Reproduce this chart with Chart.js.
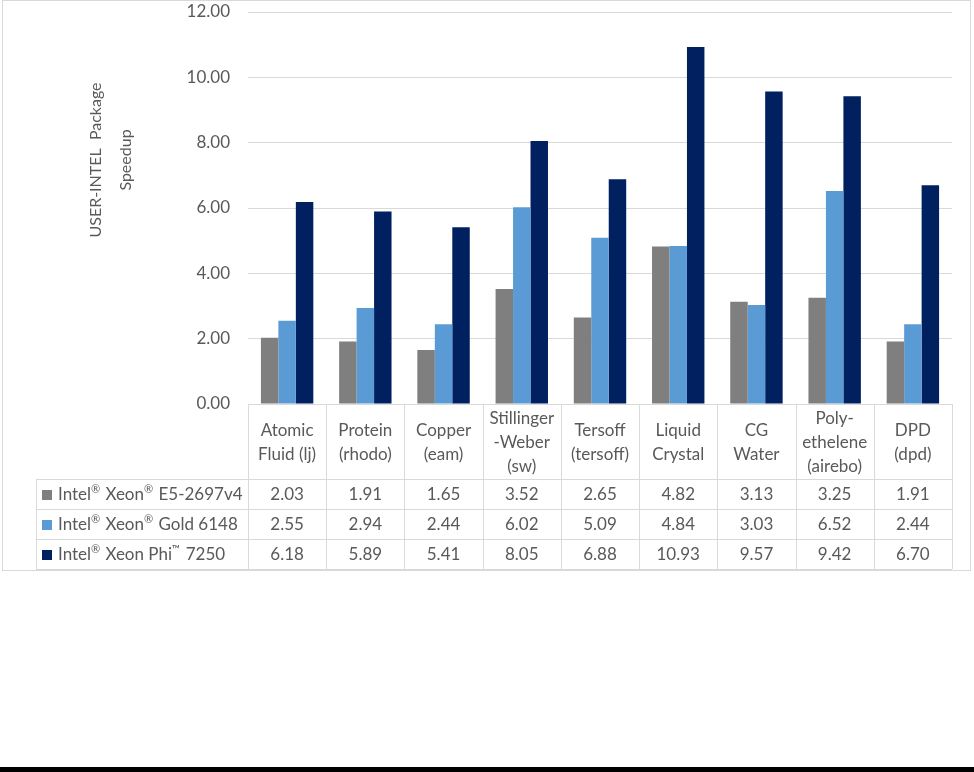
<!DOCTYPE html>
<html>
<head>
<meta charset="utf-8">
<script src="https://cdn.jsdelivr.net/npm/chart.js@4.4.0/dist/chart.umd.min.js"></script>
<style>
  html, body { margin: 0; padding: 0; background: #ffffff; overflow: hidden; }
  #wrap { position: relative; width: 974px; height: 767px; }
  #bar { width: 974px; height: 5px; background: #000000; }
</style>
</head>
<body>
<div id="wrap"><canvas id="c"></canvas></div>
<div id="bar"></div>
<script>
// ---- Data ----
const categoryLines = [
  ["Atomic", "Fluid (lj)"],
  ["Protein", "(rhodo)"],
  ["Copper", "(eam)"],
  ["Stillinger", "-Weber", "(sw)"],
  ["Tersoff", "(tersoff)"],
  ["Liquid", "Crystal"],
  ["CG", "Water"],
  ["Poly-", "ethelene", "(airebo)"],
  ["DPD", "(dpd)"]
];
const categories = categoryLines.map(l => l.join(" "));
const seriesNames = ["Intel® Xeon® E5-2697v4", "Intel® Xeon® Gold 6148", "Intel® Xeon Phi™ 7250"];
const e5Values   = [2.03, 1.91, 1.65, 3.52, 2.65, 4.82, 3.13, 3.25, 1.91];
const goldValues = [2.55, 2.94, 2.44, 6.02, 5.09, 4.84, 3.03, 6.52, 2.44];
const phiValues  = [6.18, 5.89, 5.41, 8.05, 6.88, 10.93, 9.57, 9.42, 6.70];
const yTicks = [0, 2, 4, 6, 8, 10, 12];
const yTitleLines = ["USER-INTEL  Package", "Speedup"];

const seriesValues = [e5Values, goldValues, phiValues];
const seriesColors = ["#7f7f7f", "#5b9bd5", "#002060"];
const FONT = "Lato, 'Liberation Sans', sans-serif";
const TEXT = "#595959";
const LINE = "#d9d9d9";

function drawRich(ctx, text, x, y, size) {
  let cx = x;
  const parts = text.split(/([®™])/);
  for (const p of parts) {
    if (!p) continue;
    if (p === "®" || p === "™") {
      ctx.font = `${Math.round(size * 0.65)}px ${FONT}`;
      ctx.fillText(p, cx, y - size * 0.3);
      cx += ctx.measureText(p).width + 1;
    } else {
      ctx.font = `${size}px ${FONT}`;
      ctx.fillText(p, cx, y);
      cx += ctx.measureText(p).width;
    }
  }
}

const tablePlugin = {
  id: "tablePlugin",
  afterDraw(chart) {
    const ctx = chart.ctx;
    const ca = chart.chartArea;
    const n = categories.length;
    const colW = (ca.right - ca.left) / n;
    const top = Math.round(ca.bottom);
    const headH = 75, rowH = 30;
    const headBottom = top + headH;
    const tableBottom = headBottom + rowH * 3;
    const legendLeft = 36;
    ctx.save();
    ctx.strokeStyle = LINE;
    ctx.lineWidth = 1;
    ctx.strokeRect(2.5, 0.5, 968, 570);
    ctx.beginPath();
    ctx.moveTo(ca.left, top + 0.5); ctx.lineTo(ca.right, top + 0.5);
    for (let r = 0; r <= 3; r++) {
      const y = Math.round(headBottom + r * rowH) + 0.5;
      ctx.moveTo(legendLeft, y); ctx.lineTo(ca.right, y);
    }
    for (let i = 0; i <= n; i++) {
      const x = Math.round(ca.left + i * colW) + 0.5;
      ctx.moveTo(x, top); ctx.lineTo(x, tableBottom);
    }
    ctx.moveTo(legendLeft + 0.5, headBottom); ctx.lineTo(legendLeft + 0.5, tableBottom);
    ctx.stroke();

    ctx.fillStyle = TEXT;
    ctx.textBaseline = "middle";
    ctx.textAlign = "center";
    ctx.font = `17px ${FONT}`;
    const xs = chart.scales.x;
    categoryLines.forEach((lines, i) => {
      const cx = xs.getPixelForValue(i);
      const lh = 24;
      const cy = top + headH / 2 + 1;
      lines.forEach((t, k) => {
        ctx.fillText(t, cx, cy + (k - (lines.length - 1) / 2) * lh);
      });
    });
    seriesValues.forEach((vals, s) => {
      const cy = headBottom + rowH * s + rowH / 2 + 1;
      vals.forEach((v, i) => {
        ctx.fillText(v.toFixed(2), xs.getPixelForValue(i), cy);
      });
      ctx.fillStyle = seriesColors[s];
      ctx.fillRect(42, Math.round(cy - 5), 10, 10);
      ctx.fillStyle = TEXT;
      ctx.textAlign = "left";
      drawRich(ctx, seriesNames[s], 58, cy, 17);
      ctx.textAlign = "center";
      ctx.font = `17px ${FONT}`;
    });

    ctx.save();
    ctx.translate(110, 160);
    ctx.rotate(-Math.PI / 2);
    ctx.font = `16px ${FONT}`;
    ctx.textAlign = "center";
    ctx.fillText(yTitleLines[0], 0, -14);
    ctx.fillText(yTitleLines[1], 0, 16);
    ctx.restore();
    ctx.restore();
  }
};

new Chart(document.getElementById("c"), {
  type: "bar",
  data: {
    labels: categories,
    datasets: seriesNames.map((name, s) => ({
      label: name,
      data: seriesValues[s],
      backgroundColor: seriesColors[s],
      borderWidth: 0,
      categoryPercentage: 0.67,
      barPercentage: 1.0
    }))
  },
  options: {
    responsive: true,
    maintainAspectRatio: false,
    animation: false,
    layout: { padding: { left: 0, right: 22, top: 12, bottom: 363 } },
    plugins: { legend: { display: false }, tooltip: { enabled: false } },
    scales: {
      x: { display: false },
      y: {
        min: 0, max: 12,
        afterBuildTicks(scale) { scale.ticks = yTicks.map(v => ({ value: v })); },
        afterFit(scale) { scale.width = 248; scale.paddingTop = 0; scale.paddingBottom = 0; },
        border: { display: false },
        grid: { color: LINE, drawTicks: false, lineWidth: 1 },
        ticks: {
          padding: 18,
          color: TEXT,
          font: { family: FONT, size: 17, lineHeight: 0.2 },
          callback: v => Number(v).toFixed(2)
        }
      }
    }
  },
  plugins: [tablePlugin]
});
</script>
</body>
</html>
